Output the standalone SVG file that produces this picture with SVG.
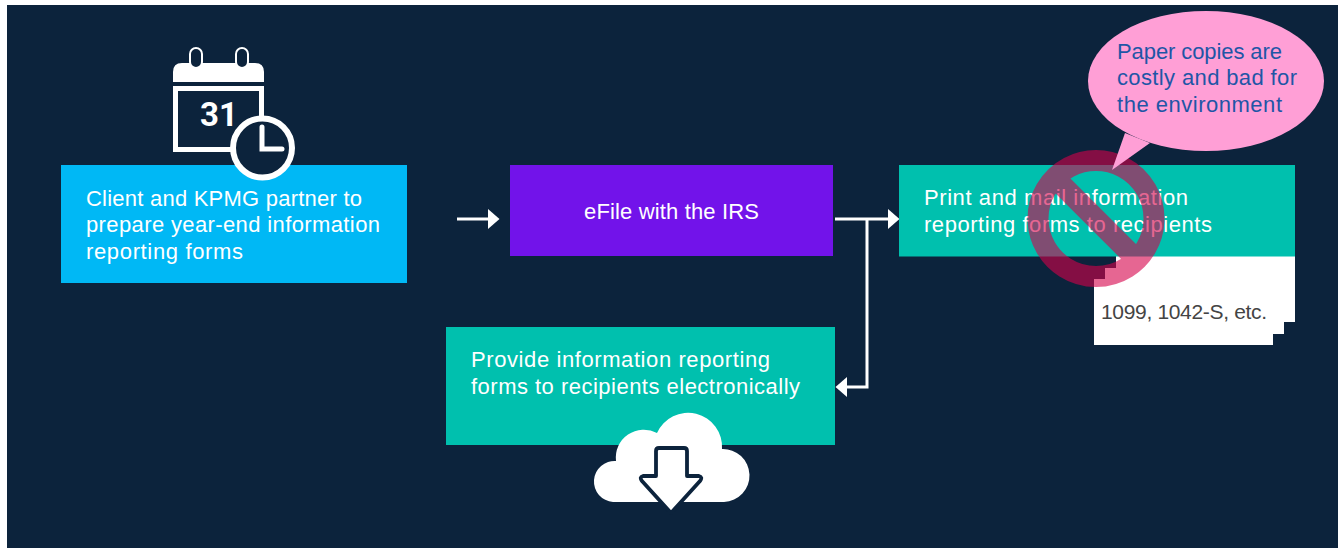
<svg xmlns="http://www.w3.org/2000/svg" width="1338" height="548" viewBox="0 0 1338 548">
<style>
text{font-family:"Liberation Sans",Arial,sans-serif;font-size:22px}
.w{fill:#fff}
.line{fill:none;stroke:#fff;stroke-width:3}
.icon{fill:none;stroke:#fff;stroke-width:5}
</style>
<defs>
<marker id="head" markerUnits="userSpaceOnUse" markerWidth="12" markerHeight="21" refX="0" refY="10.500" orient="auto"><path d="M0 0.500L11.500 10.500L0 20.500Z" fill="#fff"/></marker>
</defs>
<rect width="1338" height="548" fill="#fff"/>
<rect x="7" y="5" width="1331" height="543" fill="#0c233c"/>
<g id="connectors">
<path class="line" d="M457 219H488" marker-end="url(#head)"/>
<path class="line" d="M835 219H888" marker-end="url(#head)"/>
<path class="line" d="M867 219V387H847" marker-end="url(#head)"/>
</g>
<g id="node-prepare">
<rect x="61" y="165" width="346" height="118" fill="#00b8f5"/>
<text class="w" x="86" y="206" textLength="276">Client and KPMG partner to</text>
<text class="w" x="86" y="232" textLength="294">prepare year-end information</text>
<text class="w" x="86" y="259" textLength="157">reporting forms</text>
</g>
<g id="icon-calendar">
<path d="M173 82V72Q173 63 182 63H255Q264 63 264 72V82Z" fill="#fff"/>
<rect x="175.500" y="88.500" width="86" height="61" class="icon"/>
<rect x="190" y="48" width="12" height="20" rx="6" fill="#0c233c" stroke="#fff" stroke-width="2"/>
<rect x="236" y="48" width="12" height="20" rx="6" fill="#0c233c" stroke="#fff" stroke-width="2"/>
<text x="219" y="126" text-anchor="middle" class="w" style="font-family:Roboto,sans-serif;font-size:33px;font-weight:700">31</text>
<circle cx="262.500" cy="148" r="29.500" fill="#0c233c" stroke="#fff" stroke-width="6"/>
<path d="M262 127V149H282" fill="none" stroke="#fff" stroke-width="5" stroke-linecap="round"/>
</g>
<g id="node-efile">
<rect x="510" y="165" width="323" height="91" fill="#7213ea"/>
<text class="w" x="584" y="219" textLength="175">eFile with the IRS</text>
</g>
<g id="node-forms">
<path d="M1116 256H1295V322H1284V334H1273V345H1094V279H1105V268H1116Z" fill="#fff"/>
<text x="1101" y="319" fill="#444" textLength="166" style="font-size:21px">1099, 1042-S, etc.</text>
</g>
<g id="node-print">
<rect x="899" y="165" width="396" height="91.500" fill="#00c0ae"/>
<text class="w" x="924" y="205" textLength="264">Print and mail information</text>
<text class="w" x="924" y="232" textLength="288">reporting forms to recipients</text>
</g>
<g id="icon-prohibited" fill="none" stroke="#d6004a" stroke-opacity="0.6" stroke-width="21">
<path d="M1096 160.500a58 58 0 1 0 .01 0ZM1055 178L1137 260"/>
</g>
<g id="node-electronic">
<rect x="446" y="327" width="389" height="118" fill="#00c0ae"/>
<text class="w" x="471" y="367" textLength="299">Provide information reporting</text>
<text class="w" x="471" y="394" textLength="329">forms to recipients electronically</text>
</g>
<g id="icon-cloud">
<path d="M613 502A20 20 0 0 1 616 461A28 28 0 0 1 657 433A34 34 0 0 1 722 449A26 26 0 0 1 724 502Z" fill="#fff"/>
<path d="M656 451Q656 448 659 448H684Q687 448 687 451V476H699Q703 477 700 481L671 513L642 481Q639 477 643 476H656Z" fill="#fff" stroke="#0c233c" stroke-width="3.800" stroke-linejoin="round"/>
</g>
<g id="node-callout">
<path d="M1125 133L1112 170L1150 143Z" fill="#ff9fd6"/>
<ellipse cx="1206" cy="81" rx="118" ry="70" fill="#ff9fd6"/>
<text fill="#1f56a6" x="1117" y="59" textLength="165">Paper copies are</text>
<text fill="#1f56a6" x="1117" y="85" textLength="180">costly and bad for</text>
<text fill="#1f56a6" x="1117" y="112" textLength="165">the environment</text>
</g>
</svg>
